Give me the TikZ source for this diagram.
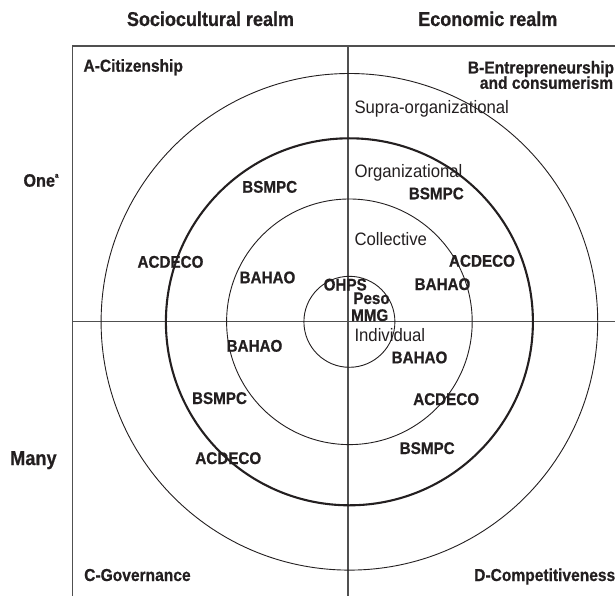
\documentclass[tikz,border=0pt]{standalone}
\usepackage{fontspec}
\setmainfont{Liberation Sans}[FakeStretch=0.93]
\newfontfamily\condbold{Liberation Sans Bold}[FakeStretch=0.9, FakeBold=0.6]
\definecolor{ink}{HTML}{231F20}
\definecolor{rulecol}{HTML}{505050}
\tikzset{
  lbl/.style={inner sep=0pt, anchor=base, text=ink, font=\condbold\fontsize{16.9}{16.9}\selectfont},
  quad/.style={inner sep=0pt, anchor=base west, text=ink, font=\condbold\fontsize{17.3}{17.3}\selectfont},
  head/.style={inner sep=0pt, anchor=base, text=ink, font=\condbold\fontsize{20}{20}\selectfont},
  side/.style={inner sep=0pt, anchor=base west, text=ink, font=\condbold\fontsize{18.5}{18.5}\selectfont},
  reg/.style={inner sep=0pt, anchor=base west, text=ink, font=\fontsize{18}{18}\selectfont},
  ring/.style={draw=ink, line width=0.9pt},
  thickring/.style={draw=ink, line width=2.1pt},
  axis/.style={draw=rulecol, line width=1.3pt},
}
\begin{document}
\begin{tikzpicture}[x=1pt,y=-1pt]
\useasboundingbox (0,0) rectangle (615,596);
% frame and axes
\coordinate (tl) at (72.7,46);
\coordinate (tr) at (615,46);
\coordinate (bl) at (72.7,596);
\coordinate (vt) at (348,46);
\coordinate (vb) at (348,596);
\coordinate (hl) at (72.7,321.7);
\coordinate (hr) at (615,321.7);
\draw[axis] (tr) -- (tl) -- (bl);
\draw[axis] (vt) -- (vb);
\draw[axis] (hl) -- (hr);
% circles
\coordinate (c) at (349.4,321.8);
\draw[ring] (c) circle[radius=45.5];
\draw[ring] (c) circle[radius=122.8];
\draw[thickring] (c) circle[radius=183.5];
\draw[ring] (c) circle[radius=248.3];
% headers
\node[head] (soc) at (210.5,26) {Sociocultural realm};
\node[head] (eco) at (487.8,26) {Economic realm};
% side labels
\node[side, font=\condbold\fontsize{18}{18}\selectfont] (one) at (23.3,186.7) {One\raisebox{0.5em}{\fontsize{7}{7}\selectfont a}};
\node[side, font=\condbold\fontsize{20.2}{20.2}\selectfont] (many) at (10,465) {Many};
% quadrant labels
\node[quad] (qa) at (83.3,71.7) {A-Citizenship};
\node[quad, anchor=base east] (qb1) at (614.3,73.5) {B-Entrepreneurship};
\node[quad, anchor=base east] (qb2) at (613.3,88.8) {and consumerism};
\node[quad] (qc) at (84,581) {C-Governance};
\node[quad] (qd) at (474,581) {D-Competitiveness};
% ring labels
\node[reg] (supra) at (354.3,113.3) {Supra-organizational};
\node[reg] (org) at (354.3,177.3) {Organizational};
\node[reg] (coll) at (354.3,245) {Collective};
\node[reg] (ind) at (354.3,341.7) {Individual};
% organisations
\node[lbl] (bs1) at (269.7,192.7) {BSMPC};
\node[lbl] (ac1) at (170.5,267.7) {ACDECO};
\node[lbl] (ba1) at (267.5,283.3) {BAHAO};
\node[lbl] (ba2) at (254.5,351.7) {BAHAO};
\node[lbl] (bs2) at (219.5,404) {BSMPC};
\node[lbl] (ac2) at (228.3,464) {ACDECO};
\node[lbl] (bs3) at (436.3,199.3) {BSMPC};
\node[lbl] (ac3) at (482,266.7) {ACDECO};
\node[lbl] (ba3) at (442.5,290) {BAHAO};
\node[lbl] (ohps) at (345.2,290.5) {OHPS};
\node[lbl] (peso) at (371.5,304) {Peso};
\node[lbl] (mmg) at (369.7,321) {MMG};
\node[lbl] (ba4) at (419.5,363.3) {BAHAO};
\node[lbl] (ac4) at (446.2,405) {ACDECO};
\node[lbl] (bs4) at (427.2,454) {BSMPC};
\end{tikzpicture}
\end{document}
